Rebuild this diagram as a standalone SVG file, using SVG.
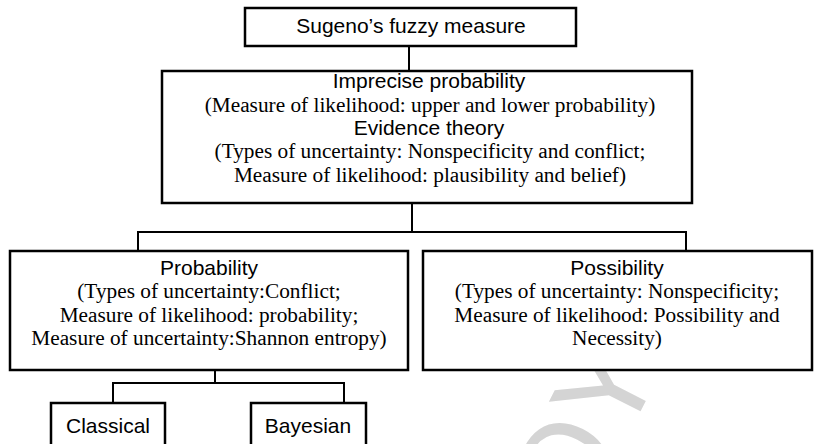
<svg xmlns="http://www.w3.org/2000/svg" width="814" height="444" viewBox="0 0 814 444">
<style>
.box{fill:#fff;stroke:#000;stroke-width:2.5}
.ln{fill:none;stroke:#000;stroke-width:2}
.h{font-family:"Liberation Sans",Arial,sans-serif;font-size:21px;text-anchor:middle;fill:#000}
.t{font-family:"Liberation Serif","Times New Roman",serif;font-size:21.3px;text-anchor:middle;fill:#000}
.wm{font-family:"Liberation Sans",Arial,sans-serif;font-size:125px;fill:#d4d4d4}
</style>
<rect width="814" height="444" fill="#fff"/>
<g id="watermark">
<text class="wm" transform="translate(580,530) rotate(-63)">OY</text>
</g>
<g id="connectors">
<path class="ln" d="M409,46V70"/>
<path class="ln" d="M412,203V232M138,251V232H686V251"/>
<path class="ln" d="M215,370V383M113,403V383H344V403"/>
</g>
<g id="sugeno">
<rect class="box" x="245" y="8" width="331" height="38"/>
<text class="h" x="411" y="33">Sugeno’s fuzzy measure</text>
</g>
<g id="imprecise">
<rect class="box" x="162" y="71" width="530" height="132"/>
<text class="h" x="429" y="88">Imprecise probability</text>
<text class="t" x="430" y="112">(Measure of likelihood: upper and lower probability)</text>
<text class="h" x="429" y="135">Evidence theory</text>
<text class="t" x="430" y="158">(Types of uncertainty: Nonspecificity and conflict;</text>
<text class="t" x="430" y="182">Measure of likelihood: plausibility and belief)</text>
</g>
<g id="probability">
<rect class="box" x="10" y="251" width="398" height="119"/>
<text class="h" x="209" y="275">Probability</text>
<text class="t" x="209" y="298">(Types of uncertainty:Conflict;</text>
<text class="t" x="209" y="322">Measure of likelihood: probability;</text>
<text class="t" x="209" y="345">Measure of uncertainty:Shannon entropy)</text>
</g>
<g id="possibility">
<rect class="box" x="423" y="251" width="389" height="119"/>
<text class="h" x="617" y="275">Possibility</text>
<text class="t" x="617" y="298">(Types of uncertainty: Nonspecificity;</text>
<text class="t" x="617" y="322">Measure of likelihood: Possibility and</text>
<text class="t" x="617" y="345">Necessity)</text>
</g>
<g id="classical">
<rect class="box" x="51" y="403" width="114" height="45"/>
<text class="h" x="108" y="433">Classical</text>
</g>
<g id="bayesian">
<rect class="box" x="251" y="403" width="115" height="45"/>
<text class="h" x="308" y="433">Bayesian</text>
</g>
</svg>
